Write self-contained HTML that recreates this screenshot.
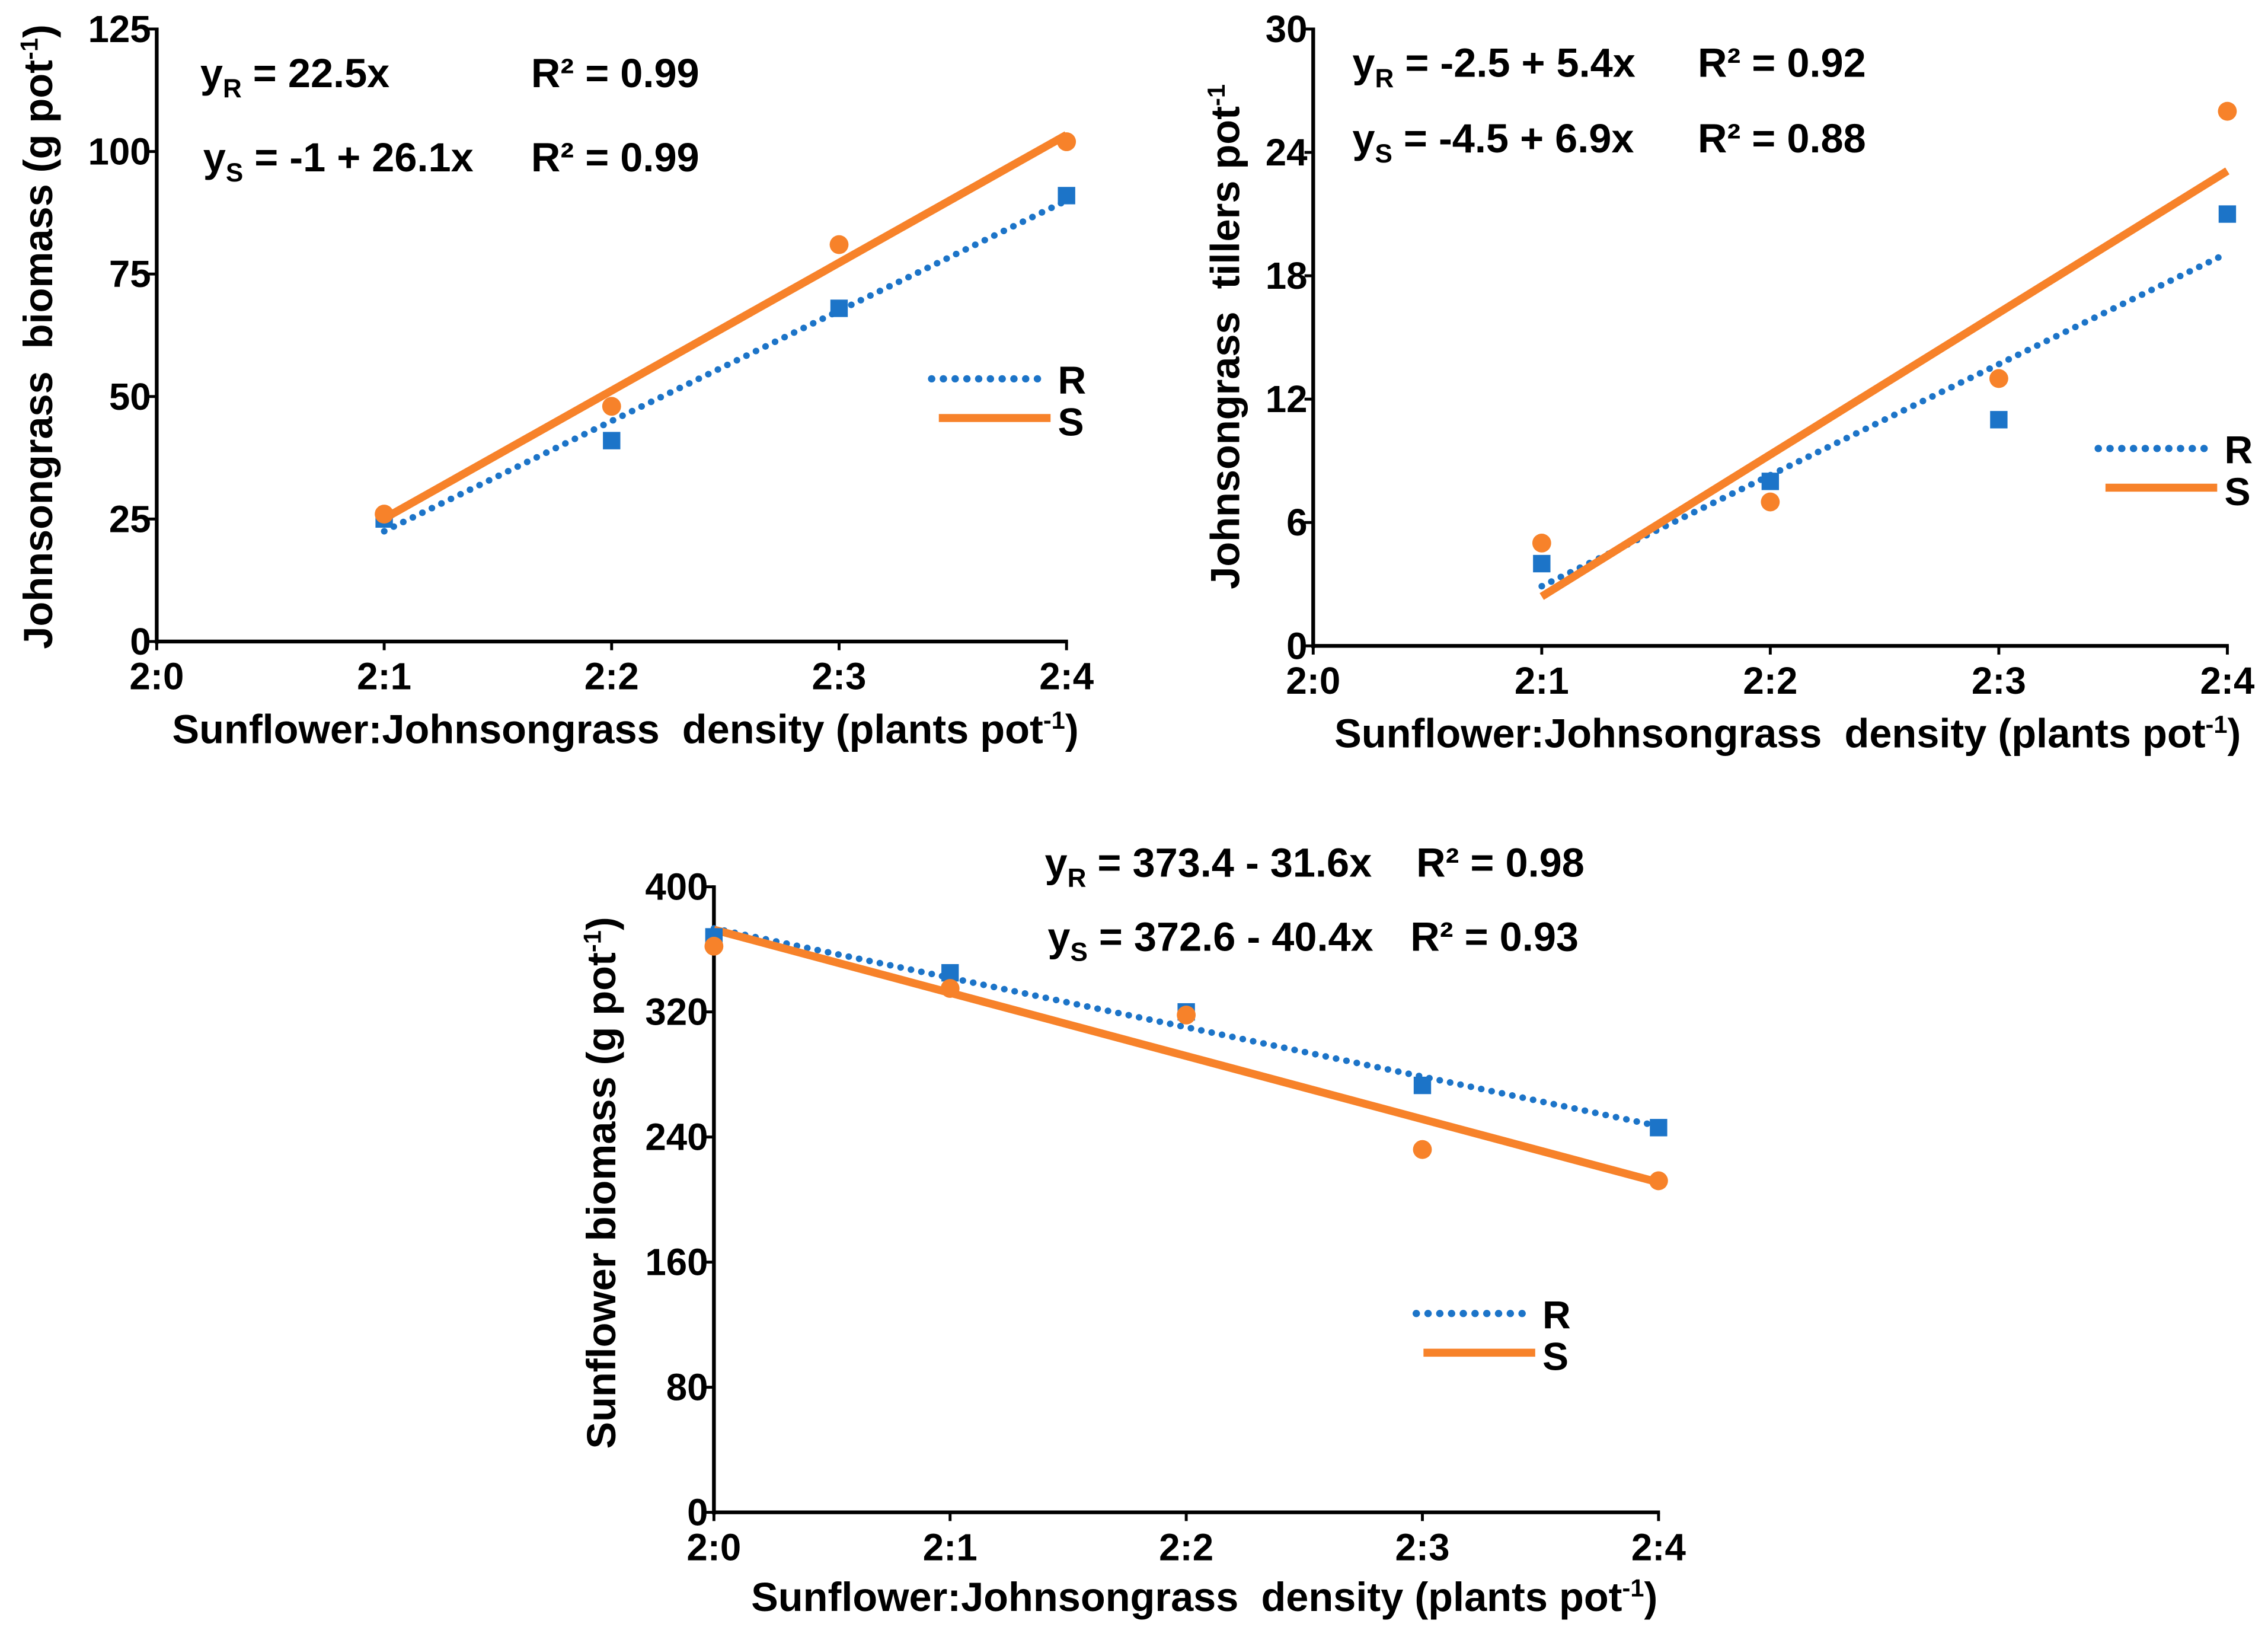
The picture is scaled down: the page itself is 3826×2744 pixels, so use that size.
<!DOCTYPE html>
<html><head><meta charset="utf-8"><style>
html,body{margin:0;padding:0;background:#fff}
svg{display:block}
text{font-family:"Liberation Sans",Arial,sans-serif;font-weight:bold;fill:#000}
</style></head><body>
<svg id="fig" xmlns="http://www.w3.org/2000/svg" width="3826" height="2744" viewBox="0 0 1563 1121"></svg>
<script>
// ---- data ----
const categories = ["2:0","2:1","2:2","2:3","2:4"];
const bioTicks = [0,25,50,75,100,125];
const bioR = [null,25,41,68,91];
const bioS = [null,26,48,81,102];
const bioFitR = [0,22.5];      // intercept, slope
const bioFitS = [-1,26.1];
const tilTicks = [0,6,12,18,24,30];
const tilR = [null,4,8,11,21];
const tilS = [null,5,7,13,26];
const tilFitR = [-2.5,5.4];
const tilFitS = [-4.5,6.9];
const sunTicks = [0,80,160,240,320,400];
const sunR = [368,345,320,273,246];
const sunS = [362,335,318,232,212];
const sunFitR = [373.4,-31.6];
const sunFitS = [372.6,-40.4];

const NS="http://www.w3.org/2000/svg";
const svg=document.getElementById('fig');
const BLUE="#1c74c8", ORANGE="#f7822a";
function mk(tag,attrs,parent,txt){const e=document.createElementNS(NS,tag);for(const k in attrs)e.setAttribute(k,attrs[k]);if(txt!==undefined)e.textContent=txt;(parent||svg).appendChild(e);return e;}

function chart(cfg){
  const g=mk('g',{});
  
  
  const xs=i=>cfg.x0+(cfg.x1-cfg.x0)*i/4;
  const ymax=cfg.ticks[cfg.ticks.length-1];
  const ys=v=>cfg.y0-(cfg.y0-cfg.y1)*v/ymax;
  const ya=mk('line',{x1:cfg.x0,y1:cfg.y1-1,x2:cfg.x0,y2:cfg.y0+1.5,stroke:'#000','stroke-width':2.6},g);
  
  
  const xa=mk('line',{x1:cfg.x0-1,y1:cfg.y0,x2:cfg.x1+1,y2:cfg.y0,stroke:'#000','stroke-width':2.6},g);
  
  
  cfg.ticks.forEach(t=>{
    mk('line',{x1:cfg.x0-6,y1:ys(t),x2:cfg.x0,y2:ys(t),stroke:'#000','stroke-width':2},g);
    const l=mk('text',{x:cfg.x0-4,y:ys(t)+9,'text-anchor':'end','font-size':26},g,String(t));
    
    
  });
  categories.forEach((c,i)=>{
    mk('line',{x1:xs(i),y1:cfg.y0,x2:xs(i),y2:cfg.y0+6,stroke:'#000','stroke-width':2},g);
    const l=mk('text',{x:xs(i),y:cfg.y0+33,'text-anchor':'middle','font-size':26},g,c);
    
    
  });
  const xt=mk('text',{x:cfg.xtX,y:cfg.xtY,'text-anchor':'middle','font-size':28},g);
  
  
  xt.innerHTML='Sunflower:Johnsongrass&#160; density (plants pot<tspan dy="-10" font-size="17">-1</tspan><tspan dy="10">)</tspan>';
  const yt=mk('text',{x:0,y:0,'text-anchor':'middle','font-size':28,transform:`translate(${cfg.ytX},${cfg.ytY}) rotate(-90)`},g);
  
  
  yt.innerHTML=cfg.ytitle;
  const first=cfg.fitStart;
  const fx=(f,i)=>f[0]+f[1]*i;
  const lr=mk('line',{x1:xs(first),y1:ys(fx(cfg.fitR,first)),x2:xs(4),y2:ys(fx(cfg.fitR,4)),stroke:BLUE,'stroke-width':4.5,'stroke-dasharray':'0.1 7.2','stroke-linecap':'round'},g);
  
  
  const ls=mk('line',{x1:xs(first),y1:ys(fx(cfg.fitS,first)),x2:xs(4),y2:ys(fx(cfg.fitS,4)),stroke:ORANGE,'stroke-width':5.5},g);
  
  
  cfg.R.forEach((v,i)=>{ if(v===null)return;
    const p=mk('rect',{x:xs(i)-6,y:ys(v)-6,width:12,height:12,fill:BLUE},g);
    
    
  });
  cfg.S.forEach((v,i)=>{ if(v===null)return;
    const p=mk('circle',{cx:xs(i),cy:ys(v),r:6.5,fill:ORANGE},g);
    
    
  });
  cfg.eqs.forEach(e=>{
    const t=mk('text',{x:e[0],y:e[1],'font-size':28},g);
    
    
    t.innerHTML=`y<tspan dy="7" font-size="18">${e[2]}</tspan><tspan dy="-7"> ${e[3]}</tspan>`;
    const r=mk('text',{x:e[4],y:e[1],'font-size':28},g);
    
    
    r.textContent='R² = '+e[5];
  });
  const L=cfg.leg;
  const lg=mk('g',{},g);
  
  
  mk('line',{x1:L[0],y1:L[1],x2:L[0]+80,y2:L[1],stroke:BLUE,'stroke-width':5,'stroke-dasharray':'0.1 8','stroke-linecap':'round'},lg);
  mk('text',{x:L[0]+87,y:L[1]+10,'font-size':27},lg,'R');
  mk('line',{x1:L[0]+5,y1:L[1]+27,x2:L[0]+82,y2:L[1]+27,stroke:ORANGE,'stroke-width':5.5},lg);
  mk('text',{x:L[0]+87,y:L[1]+39,'font-size':27},lg,'S');
}

chart({name:'johnsongrass-biomass-chart',x0:108,x1:735,y0:442,y1:20,ticks:bioTicks,R:bioR,S:bioS,fitR:bioFitR,fitS:bioFitS,fitStart:1,
  xtX:431,xtY:512,ytX:36,ytY:232,ytitle:'Johnsongrass&#160; biomass (g pot<tspan dy="-10" font-size="17">-1</tspan><tspan dy="10">)</tspan>',
  eqs:[[138,60,'R','= 22.5x',366,'0.99'],[140,118,'S','= -1 + 26.1x',366,'0.99']],leg:[642,261]});
chart({name:'johnsongrass-tillers-chart',x0:905,x1:1535,y0:445,y1:20,ticks:tilTicks,R:tilR,S:tilS,fitR:tilFitR,fitS:tilFitS,fitStart:1,
  xtX:1232,xtY:515,ytX:854,ytY:232,ytitle:'Johnsongrass&#160; tillers pot<tspan dy="-10" font-size="17">-1</tspan>',
  eqs:[[932,53,'R','= -2.5 + 5.4x',1170,'0.92'],[932,105,'S','= -4.5 + 6.9x',1170,'0.88']],leg:[1446,309]});
chart({name:'sunflower-biomass-chart',x0:492,x1:1143,y0:1042,y1:611,ticks:sunTicks,R:sunR,S:sunS,fitR:sunFitR,fitS:sunFitS,fitStart:0,
  xtX:830,xtY:1110,ytX:424,ytY:815,ytitle:'Sunflower biomass (g pot<tspan dy="-10" font-size="17">-1</tspan><tspan dy="10">)</tspan>',
  eqs:[[720,604,'R','= 373.4 - 31.6x',976,'0.98'],[722,655,'S','= 372.6 - 40.4x',972,'0.93']],leg:[976,905]});
</script>
</body></html>
